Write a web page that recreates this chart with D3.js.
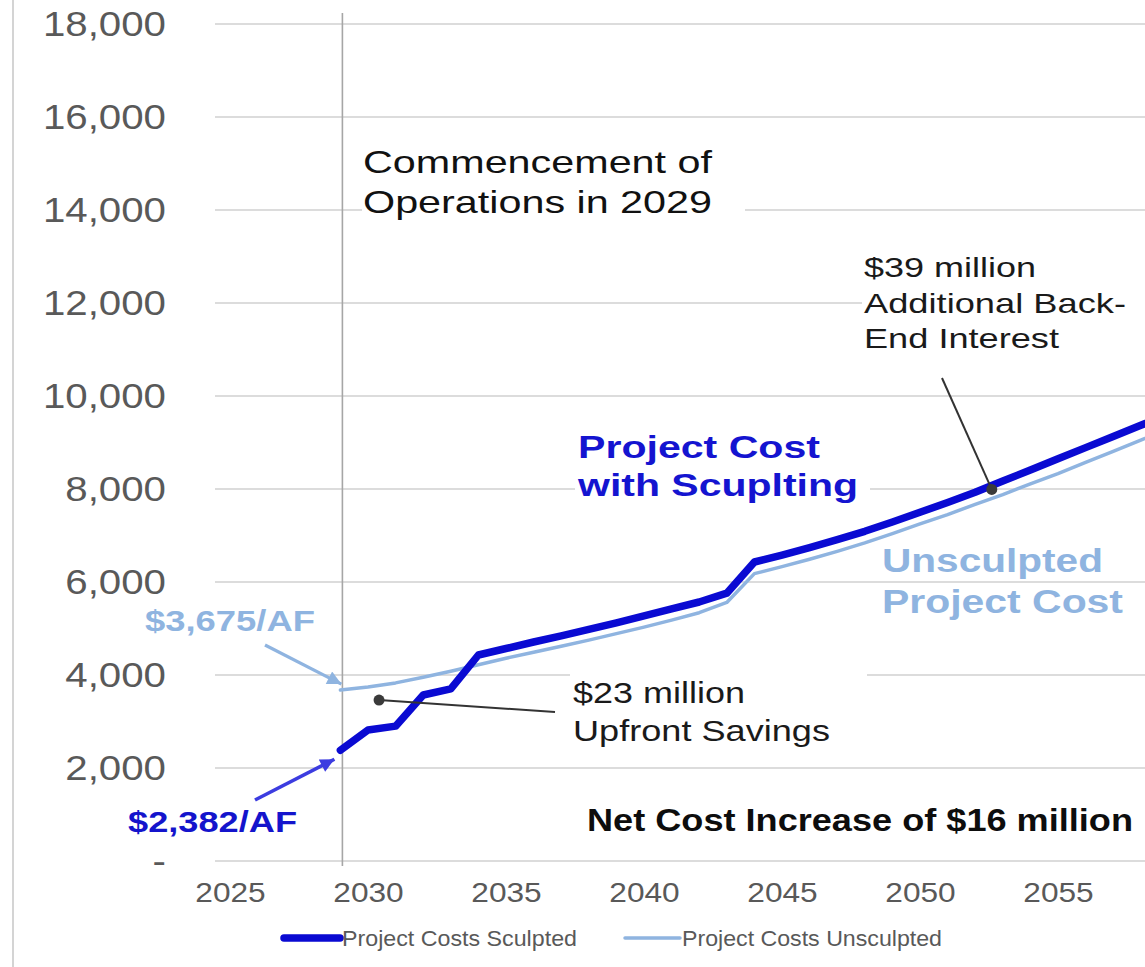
<!DOCTYPE html>
<html><head><meta charset="utf-8">
<script src="https://cdn.jsdelivr.net/npm/d3@7"></script>
<style>
body{margin:0;background:#fff}
svg{display:block;background:#fff}
text{font-family:"Liberation Sans",Arial,Helvetica,sans-serif}
</style>
</head><body>
<svg id="chart" width="1145" height="967"></svg>
<script>
// ---------- data ----------
const years = [2029,2030,2031,2032,2033,2034,2035,2036,2037,2038,2039,2040,2041,2042,2043,2044,2045,2046,2047,2048,2049,2050,2051,2052,2053,2054,2055,2056,2057,2058,2059];
const sculpted = [2382,2817,2900,3570,3700,4430,4570,4710,4840,4980,5120,5270,5420,5570,5760,6430,6580,6740,6910,7090,7290,7500,7710,7930,8170,8410,8650,8890,9130,9370,9610];
const unsculpted = [3675,3740,3830,3950,4080,4220,4360,4490,4620,4750,4890,5030,5180,5340,5560,6180,6330,6490,6660,6840,7040,7250,7450,7670,7880,8110,8330,8570,8810,9050,9290];
const yTicks = [0,2000,4000,6000,8000,10000,12000,14000,16000,18000];
const xTicks = [2025,2030,2035,2040,2045,2050,2055];
const seriesNames = ["Project Costs Sculpted","Project Costs Unsculpted"];
const opsYear = 2029;
const savingsPoint = {year:2030.4, value:3460};
const interestPoint = {year:2052.6, value:7990};

// ---------- setup ----------
const W = 1145, H = 967;
const svg = d3.select("#chart");
const C_DARK = "#0a0ad2", C_LIGHT = "#8fb4e0", C_GRID = "#dcdcdc", C_TICK = "#595959";

const x = d3.scaleLinear().domain([2025, 2055]).range([230, 1058]);
const y = d3.scaleLinear().domain([0, 18000]).range([861, 24]);
const plotLeft = 215, plotRight = W;

// outer left border
svg.append("line").attr("x1",13).attr("x2",13).attr("y1",0).attr("y2",H)
  .attr("stroke","#d4d4d4").attr("stroke-width",2);

// gridlines
svg.append("g").selectAll("line").data(yTicks).join("line")
  .attr("x1",plotLeft).attr("x2",plotRight)
  .attr("y1",d=>y(d)).attr("y2",d=>y(d))
  .attr("stroke",C_GRID).attr("stroke-width",2);

// y axis labels
const yAxis = svg.append("g").attr("transform","translate(166,0)")
  .call(d3.axisLeft(y).tickValues(yTicks).tickSize(0).tickPadding(0)
    .tickFormat(d => d === 0 ? "-" : d3.format(",")(d)));
yAxis.select(".domain").remove();
yAxis.selectAll("text").attr("font-size",35).attr("fill",C_TICK)
  .style("font-family","'Liberation Sans',Arial,sans-serif")
  .each(function(){ const L=this.getComputedTextLength(); d3.select(this).attr("textLength",L*1.15).attr("lengthAdjust","spacingAndGlyphs"); });

// x axis labels
const xAxis = svg.append("g").attr("transform",`translate(0,${y(0)})`)
  .call(d3.axisBottom(x).tickValues(xTicks).tickSize(0).tickPadding(21).tickFormat(d3.format("d")));
xAxis.select(".domain").remove();
xAxis.selectAll("text").attr("font-size",28).attr("fill",C_TICK)
  .style("font-family","'Liberation Sans',Arial,sans-serif")
  .each(function(){ const L=this.getComputedTextLength(); d3.select(this).attr("textLength",L*1.13).attr("lengthAdjust","spacingAndGlyphs"); });

// white text boxes helper + text helper
function box(x0,y0,w,h){ svg.append("rect").attr("x",x0).attr("y",y0).attr("width",w).attr("height",h).attr("fill","#fff"); }
function label(lines, o){
  lines.forEach((s,i)=>{
    svg.append("text").attr("x",o.x).attr("y",o.y[i])
      .attr("font-size",o.size).attr("font-weight",o.weight||"normal").attr("fill",o.fill)
      .attr("textLength",o.w[i]).attr("lengthAdjust","spacingAndGlyphs").text(s);
  });
}

// text backgrounds (hide gridlines behind labels)
box(362,138,383,86);
box(575,428,295,78);
box(570,668,297,82);
box(862,246,283,114);

// commencement line
svg.append("line").attr("x1",x(opsYear)+2).attr("x2",x(opsYear)+2).attr("y1",13).attr("y2",866)
  .attr("stroke","#a6a6a6").attr("stroke-width",1.6);

// series lines
const clip = svg.append("clipPath").attr("id","plotclip").append("rect")
  .attr("x",plotLeft).attr("y",0).attr("width",plotRight-plotLeft).attr("height",H);
const line = d3.line().x(d=>x(d[0])).y(d=>y(d[1])).curve(d3.curveLinear);
const g = svg.append("g").attr("clip-path","url(#plotclip)");
g.append("path").datum(years.map((yr,i)=>[yr,unsculpted[i]]))
  .attr("d",line).attr("fill","none").attr("stroke",C_LIGHT).attr("stroke-width",3.5)
  .attr("stroke-linejoin","round").attr("stroke-linecap","round");
g.append("path").datum(years.map((yr,i)=>[yr,sculpted[i]]))
  .attr("d",line).attr("fill","none").attr("stroke",C_DARK).attr("stroke-width",7.5)
  .attr("stroke-linejoin","round").attr("stroke-linecap","round");

// annotation texts
label(["Commencement of","Operations in 2029"],{x:363,y:[173,213],size:32,fill:"#111",w:[349,349]});
label(["Project Cost","with Scuplting"],{x:578,y:[458,496],size:31,weight:"bold",fill:"#1414d0",w:[242,280]});
label(["Unsculpted","Project Cost"],{x:882,y:[572,613],size:33,weight:"bold",fill:C_LIGHT,w:[221,241]});
label(["$23 million","Upfront Savings"],{x:573,y:[703,741],size:29,fill:"#1a1a1a",w:[172,257]});
label(["$39 million","Additional Back-","End Interest"],{x:864,y:[277,313,348],size:28,fill:"#1a1a1a",w:[172,262,195]});
label(["Net Cost Increase of $16 million"],{x:587,y:[831],size:31,weight:"bold",fill:"#0d0d0d",w:[546]});
label(["$3,675/AF"],{x:145,y:[631],size:29,weight:"bold",fill:C_LIGHT,w:[170]});
label(["$2,382/AF"],{x:128,y:[832],size:30,weight:"bold",fill:"#1414cc",w:[169]});

// pointer lines with dots
function pointer(pt, x2, y2){
  const px = x(pt.year), py = y(pt.value);
  svg.append("line").attr("x1",px).attr("y1",py).attr("x2",x2).attr("y2",y2)
    .attr("stroke","#333").attr("stroke-width",2);
  svg.append("circle").attr("cx",px).attr("cy",py).attr("r",5.5).attr("fill","#3a3a3a");
}
pointer(savingsPoint, 555, 712);
pointer(interestPoint, 942, 378);

// arrows
const defs = svg.append("defs");
function marker(id,color){
  defs.append("marker").attr("id",id).attr("viewBox","0 0 10 10").attr("refX",10).attr("refY",5)
    .attr("markerWidth",16).attr("markerHeight",14).attr("markerUnits","userSpaceOnUse")
    .attr("orient","auto").append("path").attr("d","M0,0L10,5L0,10z").attr("fill",color);
}
marker("arrL",C_LIGHT); marker("arrD","#3c3ce0");
svg.append("line").attr("x1",265).attr("y1",645)
  .attr("x2",x(years[0])+1).attr("y2",y(unsculpted[0])-6)
  .attr("stroke",C_LIGHT).attr("stroke-width",3.2).attr("marker-end","url(#arrL)");
svg.append("line").attr("x1",255).attr("y1",800)
  .attr("x2",x(years[0])-6).attr("y2",y(sculpted[0])+9)
  .attr("stroke","#3c3ce0").attr("stroke-width",3.6).attr("marker-end","url(#arrD)");

// legend
const legend = [
  {name:seriesNames[0], color:C_DARK, sw:7.5, x0:284, x1:340, tx:342, tw:235},
  {name:seriesNames[1], color:C_LIGHT, sw:3.5, x0:625, x1:680, tx:682, tw:260}
];
legend.forEach(l=>{
  svg.append("line").attr("x1",l.x0).attr("x2",l.x1).attr("y1",938).attr("y2",938)
    .attr("stroke",l.color).attr("stroke-width",l.sw).attr("stroke-linecap","round");
  svg.append("text").attr("x",l.tx).attr("y",946).attr("font-size",22).attr("fill",C_TICK)
    .attr("textLength",l.tw).attr("lengthAdjust","spacingAndGlyphs").text(l.name);
});
</script>
</body></html>
